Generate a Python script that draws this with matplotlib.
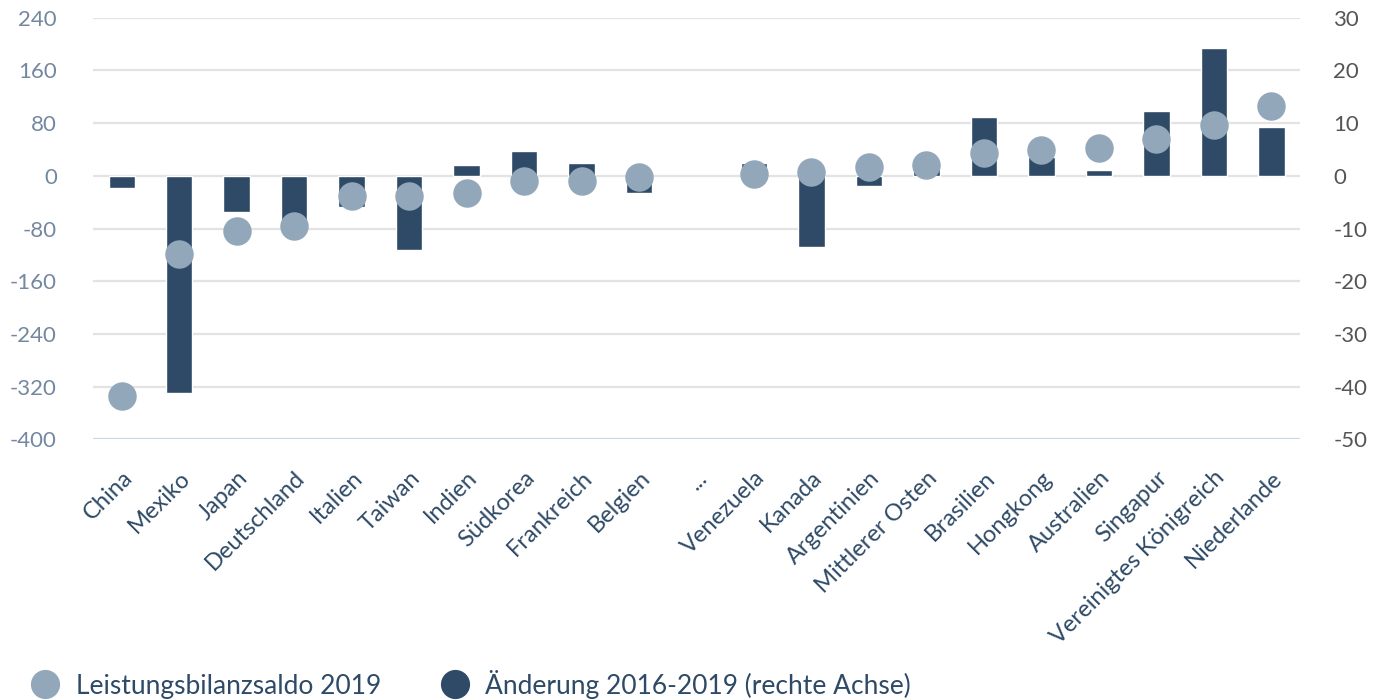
import numpy as np
import matplotlib
matplotlib.use('Agg')
import matplotlib.pyplot as plt
from matplotlib.lines import Line2D

plt.rcParams['font.family'] = ['Lato', 'DejaVu Sans']

countries = ['China', 'Mexiko', 'Japan', 'Deutschland', 'Italien', 'Taiwan',
             'Indien', 'Südkorea', 'Frankreich', 'Belgien', '...',
             'Venezuela', 'Kanada', 'Argentinien', 'Mittlerer Osten',
             'Brasilien', 'Hongkong', 'Australien', 'Singapur',
             'Vereinigtes Königreich', 'Niederlande']

# Leistungsbilanzsaldo 2019 (left axis)
saldo_2019 = [-334, -119, -83.5, -76.5, -30, -30, -26.5, -8.5, -8.5, -1.5, np.nan,
              2.4, 6, 13, 16.6, 35, 38.5, 42, 56, 77.5, 106]
# Änderung 2016-2019 (right axis)
change = [-2.3, -41.3, -6.8, -10, -6.0, -14.0, 2.1, 4.7, 2.5, -3.3, np.nan,
          2.5, -13.5, -1.9, 2.0, 11.1, 3.5, 1.1, 12.3, 24.3, 9.2]

left_ticks = [-400, -320, -240, -160, -80, 0, 80, 160, 240]
right_ticks = [-50, -40, -30, -20, -10, 0, 10, 20, 30]

bar_color = '#2e4a66'
dot_color = '#93a7ba'
label_color = '#2e4a66'

fig = plt.figure(figsize=(13.86, 7.0), dpi=100)
ax = fig.add_axes([0.0671, 0.3724, 0.938 - 0.0671, 0.9747 - 0.3724])
ax2 = ax.twinx()

x = np.arange(len(countries))

ax2.bar(x, change, width=0.46, color=bar_color, edgecolor='white',
        linewidth=1, zorder=2)
ax.set_zorder(ax2.get_zorder() + 1)
ax.patch.set_visible(False)
ax.plot(x, saldo_2019, 'o', color=dot_color, markersize=20.5,
        markeredgewidth=0, zorder=3)

ax.set_xlim(-0.5, len(countries) - 0.5)
ax.set_ylim(-400, 240)
ax2.set_ylim(-50, 30)
ax.set_yticks(left_ticks)
ax2.set_yticks(right_ticks)
ax.set_yticklabels([str(t) for t in left_ticks])
ax2.set_yticklabels([str(t) for t in right_ticks])

# grid lines drawn in the bar axes so they sit behind everything
for t in right_ticks[1:]:
    ax2.axhline(t, color='#e3e3e3', linewidth=1.6, zorder=0)
ax2.axhline(-50, color='#ccd6eb', linewidth=1.6, zorder=0)

for a in (ax, ax2):
    for s in a.spines.values():
        s.set_visible(False)

ax.tick_params(axis='y', length=0, pad=26, labelsize=16, labelcolor='#7388a0')
ax2.tick_params(axis='y', which='major', right=True, length=0, pad=24,
                labelsize=16, labelcolor='#555555')
ax.set_xticks(x)
ax.set_xticklabels(countries, rotation=45, ha='right', rotation_mode='anchor')
ax.tick_params(axis='x', length=0, pad=20, labelsize=17, labelcolor=label_color)

handles = [Line2D([], [], marker='o', linestyle='none', color=dot_color, markersize=20),
           Line2D([], [], marker='o', linestyle='none', color=bar_color, markersize=20)]
fig.legend(handles, ['Leistungsbilanzsaldo 2019', 'Änderung 2016-2019 (rechte Achse)'],
           loc='lower left', bbox_to_anchor=(0.0042, -0.032), ncol=2, frameon=False,
           fontsize=19, labelcolor=label_color, handletextpad=0.55,
           columnspacing=2.2, handlelength=1.2)

fig.savefig('out.png', dpi=100, facecolor='white')
